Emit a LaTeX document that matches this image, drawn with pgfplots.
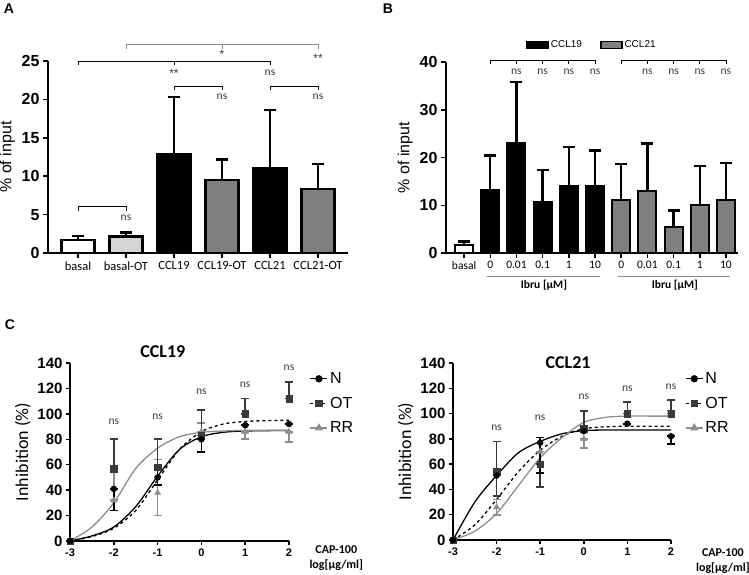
\documentclass[border=0pt]{standalone}
\usepackage{fontspec}
\setmainfont{Liberation Sans}
\newfontfamily\carl{Carlito}
\usepackage{pgfplots}
\pgfplotsset{compat=1.18}

\definecolor{gr}{HTML}{7F7F7F}
\definecolor{lgr}{HTML}{D4D4D4}
\definecolor{dgr}{HTML}{3A3A3A}
\definecolor{rr}{HTML}{8E8E8E}
\definecolor{brk}{HTML}{8A8A8A}

\pgfplotsset{
  gp/.style={scale only axis, anchor=south west, axis lines=left,
    axis line style={-, line width=1.5pt}, tick style={line width=1.5pt, black},
    tick align=outside, major tick length=5pt, clip=false,
    /pgf/number format/assume math mode=true,
    yticklabel style={font=\fontsize{16}{16}\selectfont\bfseries}},
  barerr/.style={/pgfplots/error bars/y dir=plus, /pgfplots/error bars/y explicit,
    /pgfplots/error bars/error bar style={line width=2.4pt},
    /pgfplots/error bars/error mark options={rotate=90, mark size=6pt, line width=2.4pt}},
  pterr/.style={/pgfplots/error bars/y dir=both, /pgfplots/error bars/y explicit,
    /pgfplots/error bars/error bar style={line width=1.7pt},
    /pgfplots/error bars/error mark options={rotate=90, mark size=4pt, line width=1.7pt}},
}
\tikzset{ns/.style={font=\carl\fontsize{11.5}{11.5}\selectfont, text=dgr},
  st/.style={font=\fontsize{12}{12}\selectfont, text=dgr}}

\begin{document}
\begin{tikzpicture}
\useasboundingbox (0,0) rectangle (749pt,574pt);
\node[font=\bfseries\fontsize{14}{14}\selectfont] at (9pt,565pt) {A};
\node[font=\bfseries\fontsize{14}{14}\selectfont] at (388pt,565pt) {B};
\node[font=\bfseries\fontsize{14}{14}\selectfont] at (10pt,249pt) {C};

% ---------- panel A ----------
\begin{axis}[gp, at={(48pt,321pt)}, width=300pt, height=192pt,
  ymin=0, ymax=25, xmin=-0.625, xmax=5.625, ytick={0,5,...,25},
  xtick={0,...,5}, xticklabels={basal,basal-OT,CCL19,CCL19-OT,CCL21,CCL21-OT},
  xticklabel style={font=\carl\fontsize{12.5}{12.5}\selectfont},
  ylabel={\% of input}, ylabel style={font=\fontsize{16}{16}\selectfont},
  ybar, bar width=33pt, bar shift=0pt]
\addplot[draw=black, line width=2.2pt, fill=white, barerr] coordinates {(0,1.65) +- (0,0.6)};
\addplot[draw=black, line width=2.2pt, fill=lgr, barerr] coordinates {(1,2.15) +- (0,0.5)};
\addplot[draw=black, line width=2.2pt, fill=black, barerr] coordinates {(2,12.9) +- (0,7.4) (4,11.1) +- (0,7.5)};
\addplot[draw=black, line width=2.2pt, fill=gr, barerr] coordinates {(3,9.55) +- (0,2.6) (5,8.3) +- (0,3.3)};
% brackets
\draw[line width=0.9pt] (axis cs:0,24.5) -- (axis cs:0,25) -- (axis cs:4,25) -- (axis cs:4,24.5);
\draw[line width=0.9pt] (axis cs:2,25) -- (axis cs:2,24.5);
\node[st] at (axis cs:2,23.4) {**};
\node[ns] at (axis cs:4,23.5) {ns};
\draw[line width=0.9pt, brk] (axis cs:1,26.5) -- (axis cs:1,27.1) -- (axis cs:5,27.1) -- (axis cs:5,26.5);
\draw[line width=0.9pt, brk] (axis cs:3,27.1) -- (axis cs:3,26.5);
\node[st] at (axis cs:3,25.9) {*};
\node[st] at (axis cs:5,25.3) {**};
\draw[line width=0.9pt] (axis cs:2,21.2) -- (axis cs:2,21.7) -- (axis cs:3,21.7) -- (axis cs:3,21.2);
\node[ns] at (axis cs:3,20.3) {ns};
\draw[line width=0.9pt] (axis cs:4,21.2) -- (axis cs:4,21.7) -- (axis cs:5,21.7) -- (axis cs:5,21.2);
\node[ns] at (axis cs:5,20.3) {ns};
\draw[line width=0.9pt] (axis cs:0,5.5) -- (axis cs:0,6) -- (axis cs:1,6) -- (axis cs:1,5.5);
\node[ns] at (axis cs:1,4.6) {ns};
\end{axis}

% ---------- panel B ----------
\begin{axis}[gp, at={(446pt,321pt)}, width=292pt, height=191pt,
  ymin=0, ymax=40, xmin=-0.69, xmax=10.46, ytick={0,10,...,40},
  xtick={0,...,10}, xticklabels={basal,0,0.01,0.1,1,10,0,0.01,0.1,1,10},
  xticklabel style={font=\carl\fontsize{11.5}{11.5}\selectfont},
  ylabel={\% of input}, ylabel style={font=\fontsize{16}{16}\selectfont},
  ybar, bar width=18pt, bar shift=0pt,
  legend columns=2,
  legend style={draw=none, fill=none, at={(0.5,1.09)}, anchor=center,
    font=\fontsize{10}{10}\selectfont, /tikz/every even column/.style={column sep=16pt}},
  legend image code/.code={\draw[#1, line width=1.5pt] (0pt,-3.5pt) rectangle (21pt,3.5pt);}]
\addplot[draw=black, line width=2pt, fill=white, forget plot, barerr] coordinates {(0,1.6) +- (0,0.8)};
\addplot[draw=black, line width=2pt, fill=black, barerr] coordinates {
  (1,13.1) +- (0,7.3) (2,23.0) +- (0,12.8) (3,10.6) +- (0,6.8) (4,14.0) +- (0,8.2) (5,14.1) +- (0,7.4)};
\addlegendentry{CCL19}
\addplot[draw=black, line width=2pt, fill=gr, barerr] coordinates {
  (6,11.2) +- (0,7.5) (7,12.9) +- (0,10.0) (8,5.4) +- (0,3.5) (9,10.0) +- (0,8.2) (10,11.0) +- (0,7.9)};
\addlegendentry{CCL21}
% brackets
\draw[line width=0.9pt] (axis cs:1,39.6) -- (axis cs:1,40.4) -- (axis cs:5,40.4) -- (axis cs:5,39.6);
\draw[line width=0.9pt] (axis cs:6,39.6) -- (axis cs:6,40.4) -- (axis cs:10,40.4) -- (axis cs:10,39.6);
\pgfplotsinvokeforeach{2,3,4,7,8,9}{\draw[line width=0.9pt] (axis cs:#1,40.4) -- (axis cs:#1,39.6);}
\pgfplotsinvokeforeach{2,3,4,5,7,8,9,10}{\node[ns] at (axis cs:#1,38.0) {ns};}
% Ibru groups
\draw[line width=0.8pt, brk] (axis cs:0.88,-4.8) -- (axis cs:5.19,-4.8);
\draw[line width=0.8pt, brk] (axis cs:5.88,-4.8) -- (axis cs:10.15,-4.8);
\node[font=\carl\bfseries\fontsize{11.5}{11.5}\selectfont] at (axis cs:3.05,-6.7) {Ibru [µM]};
\node[font=\carl\bfseries\fontsize{11.5}{11.5}\selectfont] at (axis cs:8.05,-6.7) {Ibru [µM]};
\end{axis}

% ---------- panel C, CCL19 ----------
\begin{axis}[gp, at={(70pt,33pt)}, width=219pt, height=178pt,
  xmin=-3, xmax=2, ymin=0, ymax=140, ytick={0,20,...,140},
  yticklabel style={font=\fontsize{15}{15}\selectfont\bfseries},
  xtick={-3,...,2}, xticklabels={-3,-2,-1,0,1,2},
  xticklabel style={font=\fontsize{11}{11}\selectfont\bfseries},
  major tick length=4pt,
  ylabel={Inhibition (\%)}, ylabel style={font=\carl\fontsize{18}{18}\selectfont},
  legend cell align=left,
  legend style={draw=none, fill=none, at={(1.08,0.97)}, anchor=north west,
    font=\fontsize{16}{16}\selectfont, row sep=8pt}]
\addlegendimage{black, line width=1.3pt, mark=*, mark size=3pt}
\addlegendentry{N}
\addlegendimage{black, dashed, line width=1.3pt, mark=square*, mark size=3pt, mark options={solid, fill=dgr, draw=dgr}}
\addlegendentry{OT}
\addlegendimage{rr, line width=1.3pt, mark=triangle*, mark size=3.5pt}
\addlegendentry{RR}
\addplot[black, line width=1.3pt, smooth, no marks, forget plot] coordinates {
  (-3,0) (-2.5,4) (-2,11) (-1.5,27) (-1,51) (-0.5,72) (0,82) (0.5,85.5) (1,86.5) (1.5,86.8) (2,87)};
\addplot[black, dashed, line width=1.3pt, smooth, no marks, forget plot] coordinates {
  (-3,0) (-2.5,3.5) (-2,10) (-1.5,24) (-1,48) (-0.5,72) (0,86) (0.5,92) (1,94) (1.5,94.7) (2,95)};
\addplot[rr, line width=1.3pt, smooth, no marks, forget plot] coordinates {
  (-3,0) (-2.5,11) (-2,30) (-1.5,57) (-1,73) (-0.5,82) (0,85.5) (0.5,86.5) (1,87) (2,87)};
\addplot[rr, only marks, mark=triangle*, mark size=3.5pt, forget plot, pterr]
  table[x=x, y=y, y error plus=ep, y error minus=em] {
x y ep em
-3 0 0 0
-2 32 23 0
-1 38 26 18
0 86 7 0
1 86 0 6
2 86 0 8
};
\addplot[dgr, only marks, mark=square*, mark size=3.2pt, forget plot, pterr]
  table[x=x, y=y, y error plus=ep, y error minus=em] {
x y ep em
-3 0 0 0
-2 57 23 0
-1 58 22 0
0 83 20 0
1 100 12 0
2 112 13 0
};
\addplot[black, only marks, mark=*, mark size=3pt, forget plot, pterr]
  table[x=x, y=y, y error plus=ep, y error minus=em] {
x y ep em
-3 0 0 0
-2 41 0 17
-1 50 8 6
0 80 0 10
1 91 0 0
2 92 0 0
};
\node[font=\carl\bfseries\fontsize{18}{18}\selectfont] at (axis cs:-0.88,149) {CCL19};
\node[ns] at (axis cs:-2,94) {ns};
\node[ns] at (axis cs:-1,98) {ns};
\node[ns] at (axis cs:0,117) {ns};
\node[ns] at (axis cs:1,123) {ns};
\node[ns] at (axis cs:2,136) {ns};
\node[font=\carl\bfseries\fontsize{12}{12}\selectfont] at (axis cs:3.08,-7) {CAP-100};
\node[font=\carl\bfseries\fontsize{12}{12}\selectfont] at (axis cs:3.08,-19) {log[µg/ml]};
\end{axis}

% ---------- panel C, CCL21 ----------
\begin{axis}[gp, at={(453pt,34pt)}, width=218pt, height=177pt,
  xmin=-3, xmax=2, ymin=0, ymax=140, ytick={0,20,...,140},
  yticklabel style={font=\fontsize{15}{15}\selectfont\bfseries},
  xtick={-3,...,2}, xticklabels={-3,-2,-1,0,1,2},
  xticklabel style={font=\fontsize{11}{11}\selectfont\bfseries},
  major tick length=4pt,
  ylabel={Inhibition (\%)}, ylabel style={font=\carl\fontsize{18}{18}\selectfont},
  legend cell align=left,
  legend style={draw=none, fill=none, at={(1.05,0.97)}, anchor=north west,
    font=\fontsize{16}{16}\selectfont, row sep=8pt}]
\addlegendimage{black, line width=1.3pt, mark=*, mark size=3pt}
\addlegendentry{N}
\addlegendimage{black, dashed, line width=1.3pt, mark=square*, mark size=3pt, mark options={solid, fill=dgr, draw=dgr}}
\addlegendentry{OT}
\addlegendimage{rr, line width=1.3pt, mark=triangle*, mark size=3.5pt}
\addlegendentry{RR}
\addplot[black, line width=1.3pt, smooth, no marks, forget plot] coordinates {
  (-3,0) (-2.5,30) (-2,51) (-1.5,69) (-1,78) (-0.5,84) (0,86.5) (0.5,87) (1,87) (2,87)};
\addplot[black, dashed, line width=1.3pt, smooth, no marks, forget plot] coordinates {
  (-3,0) (-2.5,12) (-2,32) (-1.5,54) (-1,71) (-0.5,82) (0,88) (0.5,89.5) (1,90) (2,90)};
\addplot[rr, line width=1.3pt, smooth, no marks, forget plot] coordinates {
  (-3,0) (-2.5,7) (-2,21) (-1.5,43) (-1,65) (-0.5,81) (0,93) (0.5,97) (1,98) (1.5,98) (2,98)};
\addplot[rr, only marks, mark=triangle*, mark size=3.5pt, forget plot, pterr]
  table[x=x, y=y, y error plus=ep, y error minus=em] {
x y ep em
-3 0 0 0
-2 26 6 6
-1 70 11 0
0 80 0 7
1 100 0 0
2 98 4 0
};
\addplot[dgr, only marks, mark=square*, mark size=3.2pt, forget plot, pterr]
  table[x=x, y=y, y error plus=ep, y error minus=em] {
x y ep em
-3 0 0 0
-2 54 24 19
-1 60 0 18
0 88 14 0
1 100 9 0
2 100 11 0
};
\addplot[black, only marks, mark=*, mark size=3pt, forget plot, pterr]
  table[x=x, y=y, y error plus=ep, y error minus=em] {
x y ep em
-3 0 0 0
-2 51 0 0
-1 77 4 24
0 86 0 0
1 92 0 0
2 82 0 6
};
\node[font=\carl\bfseries\fontsize{18}{18}\selectfont] at (axis cs:-0.36,140) {CCL21};
\node[ns] at (axis cs:-2,89) {ns};
\node[ns] at (axis cs:-1,97) {ns};
\node[ns] at (axis cs:0,113) {ns};
\node[ns] at (axis cs:1,119.5) {ns};
\node[ns] at (axis cs:2,121) {ns};
\node[font=\carl\bfseries\fontsize{12}{12}\selectfont] at (axis cs:3.19,-10) {CAP-100};
\node[font=\carl\bfseries\fontsize{12}{12}\selectfont] at (axis cs:3.19,-22) {log[µg/ml]};
\end{axis}
\end{tikzpicture}
\end{document}
